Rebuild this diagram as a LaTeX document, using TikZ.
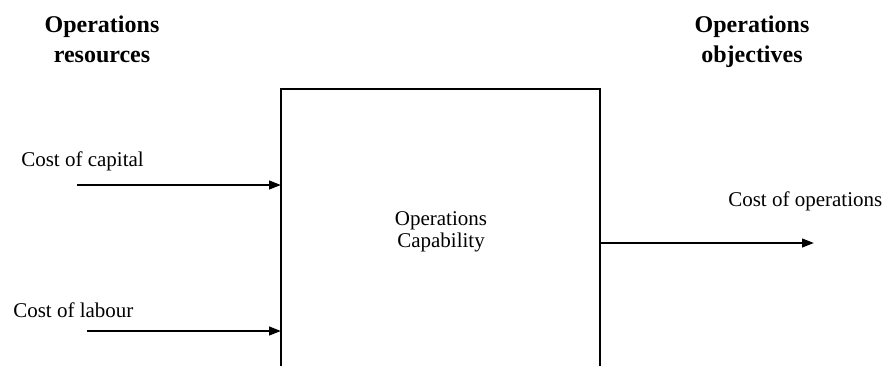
\documentclass[tikz,border=0pt]{standalone}
\usepackage{fontspec}
\setmainfont{Liberation Serif}
\usetikzlibrary{arrows.meta}
\begin{document}
\begin{tikzpicture}[x=0.75pt,y=-0.75pt,
  lbl/.style={font=\fontsize{15.75}{19}\selectfont, inner sep=0pt},
  head/.style={font=\bfseries\fontsize{18}{22}\selectfont, inner sep=0pt},
  conn/.style={line width=1.6pt, -{Triangle[length=9pt,width=6.5pt]}},
  boxline/.style={line width=1.7pt}]
\useasboundingbox (0,0) rectangle (886,365);
% headings
\node[head, anchor=base] (h1a) at (102,32) {Operations};
\node[head, anchor=base] (h1b) at (102,62) {resources};
\node[head, anchor=base] (h2a) at (752,32) {Operations};
\node[head, anchor=base] (h2b) at (752,62) {objectives};
% box (open at bottom, cut by the page edge)
\coordinate (bl) at (281,372);
\coordinate (tl) at (281,89);
\coordinate (tr) at (600,89);
\coordinate (br) at (600,372);
\draw[boxline] (bl) -- (tl) -- (tr) -- (br);
\node[lbl, anchor=base] (cap1) at (441,225) {Operations};
\node[lbl, anchor=base] (cap2) at (441,247) {Capability};
% inputs
\node[lbl, anchor=base west] (lcap) at (21,166) {Cost of capital};
\node[lbl, anchor=base west] (llab) at (13,317) {Cost of labour};
\coordinate (s1) at (77,185);
\coordinate (e1) at (281,185);
\coordinate (s2) at (87,331);
\coordinate (e2) at (281,331);
\draw[conn] (s1) -- (e1);
\draw[conn] (s2) -- (e2);
% output
\node[lbl, anchor=base west] (lops) at (728,206) {Cost of operations};
\coordinate (s3) at (600,243);
\coordinate (e3) at (814,243);
\draw[conn] (s3) -- (e3);
\end{tikzpicture}
\end{document}
